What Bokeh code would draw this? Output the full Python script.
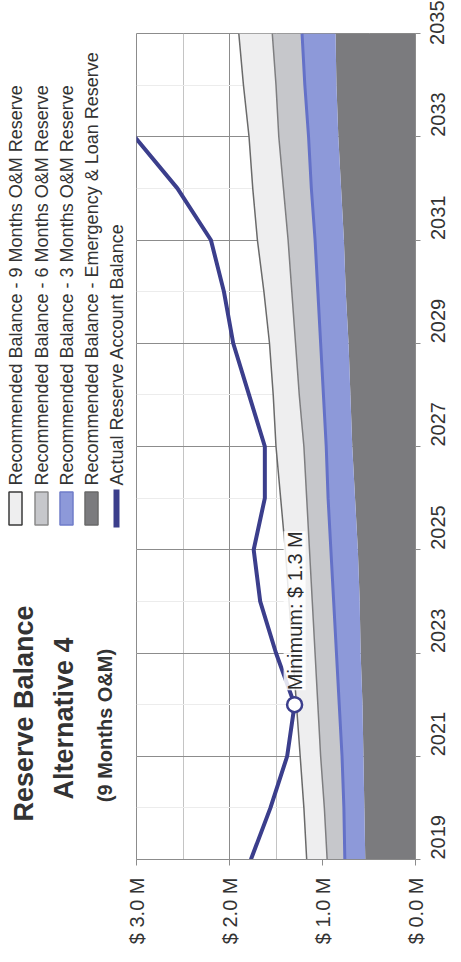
import math
from bokeh.plotting import figure
from bokeh.layouts import row
from bokeh.models import Range1d, FixedTicker, Label
from bokeh.core.properties import value
from bokeh.embed import file_html
from bokeh.resources import INLINE

# ---------------- data ----------------
years = list(range(2019, 2036))
# cumulative recommended balances ($ M)
emergency_loan = [0.54, 0.55, 0.56, 0.57, 0.59, 0.60, 0.62, 0.65, 0.68, 0.70, 0.72, 0.75, 0.77, 0.80, 0.83, 0.85, 0.86]
reserve_3mo = [0.76, 0.77, 0.79, 0.82, 0.85, 0.88, 0.91, 0.94, 0.96, 0.99, 1.02, 1.05, 1.08, 1.12, 1.15, 1.19, 1.22]
reserve_6mo = [0.95, 0.98, 1.02, 1.05, 1.08, 1.11, 1.14, 1.17, 1.20, 1.25, 1.29, 1.33, 1.37, 1.42, 1.47, 1.50, 1.54]
reserve_9mo = [1.17, 1.20, 1.24, 1.28, 1.32, 1.36, 1.40, 1.45, 1.50, 1.53, 1.57, 1.63, 1.70, 1.75, 1.79, 1.85, 1.90]
zero_line = [0.0] * len(years)

actual_years = list(range(2019, 2034))
actual_balance = [1.77, 1.56, 1.38, 1.30, 1.50, 1.67, 1.74, 1.62, 1.62, 1.79, 1.96, 2.06, 2.20, 2.56, 3.02]

value_ticks = [0, 1, 2, 3]
value_tick_labels = ["$ 0.0 M", "$ 1.0 M", "$ 2.0 M", "$ 3.0 M"]
value_minor = [0.5, 1.5, 2.5]
year_ticks = list(range(2019, 2036, 2))

title_lines = ["Reserve Balance", "Alternative 4"]
subtitle = "(9 Months O&M)"
legend_labels = [
    "Recommended Balance - 9 Months O&M Reserve",
    "Recommended Balance - 6 Months O&M Reserve",
    "Recommended Balance - 3 Months O&M Reserve",
    "Recommended Balance - Emergency & Loan Reserve",
    "Actual Reserve Account Balance",
]
min_label = "Minimum: $ 1.3 M"

# ---------------- styles ----------------
FONT = "Liberation Sans"
C_EL = "#7b7b7e"
C_3 = "#8d99d9"
C_3_LINE = "#6471c8"
C_6 = "#c6c7cb"
C_6_LINE = "#7e7e80"
C_9 = "#eeeeef"
C_9_LINE = "#6a6a6a"
C_ACT = "#3b3e8c"
GRID = "#8c8c8c"
TXT = "#333333"

FRAME_TOP = 33
FRAME_H = 826
FRAME_W = 279
W_L = 125

# ---------------- chart ----------------
p = figure(frame_width=FRAME_W, frame_height=FRAME_H,
           x_range=Range1d(3.0, 0.0), y_range=Range1d(2019, 2035),
           y_axis_location="right", output_backend="svg", toolbar_location=None,
           min_border_left=11, min_border_top=FRAME_TOP, min_border_right=4, min_border_bottom=4,
           background_fill_color="white")

p.harea(x1=zero_line, x2=emergency_loan, y=years, fill_color=C_EL)
p.harea(x1=emergency_loan, x2=reserve_3mo, y=years, fill_color=C_3)
p.harea(x1=reserve_3mo, x2=reserve_6mo, y=years, fill_color=C_6)
p.harea(x1=reserve_6mo, x2=reserve_9mo, y=years, fill_color=C_9)
p.line(x=reserve_3mo, y=years, line_color=C_3_LINE, line_width=3)
p.line(x=reserve_6mo, y=years, line_color=C_6_LINE, line_width=1.5)
p.line(x=reserve_9mo, y=years, line_color=C_9_LINE, line_width=1.5)

p.line(x=actual_balance, y=actual_years, line_color=C_ACT, line_width=4)

i_min = actual_balance.index(min(actual_balance))
p.scatter(x=[actual_balance[i_min]], y=[actual_years[i_min]], size=15,
          fill_color="white", line_color=C_ACT, line_width=2.5)
p.add_layout(Label(x=actual_balance[i_min], y=actual_years[i_min] + 0.28, text=min_label,
                   angle=math.pi / 2, text_align="left", text_baseline="middle",
                   text_font=FONT, text_font_size="20px", text_color="#2a2a2a",
                   background_fill_color="white", background_fill_alpha=0.85))

p.xgrid.ticker = FixedTicker(ticks=value_ticks, minor_ticks=value_minor)
p.xgrid.grid_line_color = GRID
p.xgrid.minor_grid_line_color = "#c4c4c4"
p.ygrid.ticker = FixedTicker(ticks=year_ticks, minor_ticks=years)
p.ygrid.grid_line_color = GRID
p.ygrid.minor_grid_line_color = "#ececec"
p.outline_line_color = GRID

p.xaxis.ticker = FixedTicker(ticks=value_ticks)
p.xaxis.major_label_overrides = {t: l for t, l in zip(value_ticks, value_tick_labels)}
p.yaxis.ticker = FixedTicker(ticks=year_ticks)
for ax in (p.xaxis, p.yaxis):
    ax.major_label_orientation = math.pi / 2
    ax.major_label_text_font = FONT
    ax.major_label_text_font_size = "20px"
    ax.major_label_text_color = TXT
    ax.axis_line_color = GRID
    ax.major_tick_line_color = GRID
    ax.major_tick_in = 0
    ax.minor_tick_line_color = None
p.xaxis.major_tick_out = 6
p.xaxis.major_label_standoff = 12
p.yaxis.major_tick_out = 5
p.yaxis.major_label_standoff = 17

# ---------------- title + legend panel (frame aligned with chart frame) ----------------
lp = figure(frame_width=W_L, frame_height=FRAME_H,
            x_range=Range1d(0, W_L), y_range=Range1d(0, FRAME_H),
            x_axis_location=None, y_axis_location=None, output_backend="svg",
            toolbar_location=None, min_border_left=0, min_border_right=0,
            min_border_top=FRAME_TOP, min_border_bottom=0)
lp.grid.visible = False
lp.outline_line_color = None


def py(y):
    # page y (from top) -> panel data y
    return FRAME_TOP + FRAME_H - y


lp.text(x=[23, 63], y=[py(713), py(718)], text=title_lines, angle=math.pi / 2,
        text_align="center", text_baseline="middle", text_font=value(FONT),
        text_font_size="27px", text_font_style="bold", text_color=TXT)
lp.text(x=[104], y=[py(725)], text=[subtitle], angle=math.pi / 2,
        text_align="center", text_baseline="middle", text_font=value(FONT),
        text_font_size="20px", text_font_style="bold", text_color=TXT)

leg_x = [15, 41, 66, 91, 116]
sw_fill = [C_9, C_6, C_3, C_EL]
sw_line = ["#3a3a3a", "#8a8a8a", "#6f7cc9", "#6a6a6a"]
lp.rect(x=leg_x[:4], y=[py(508)] * 4, width=13, height=33,
        fill_color=sw_fill, line_color=sw_line, line_width=1.5)
lp.line(x=[leg_x[4], leg_x[4]], y=[py(489), py(527)], line_color=C_ACT, line_width=6)
lp.text(x=leg_x, y=[py(485)] * 5, text=legend_labels, angle=math.pi / 2,
        text_align="left", text_baseline="middle", text_font=value(FONT),
        text_font_size="18px", text_color=TXT)

layout = row(lp, p)
open("out.html", "w").write(file_html(layout, INLINE))
